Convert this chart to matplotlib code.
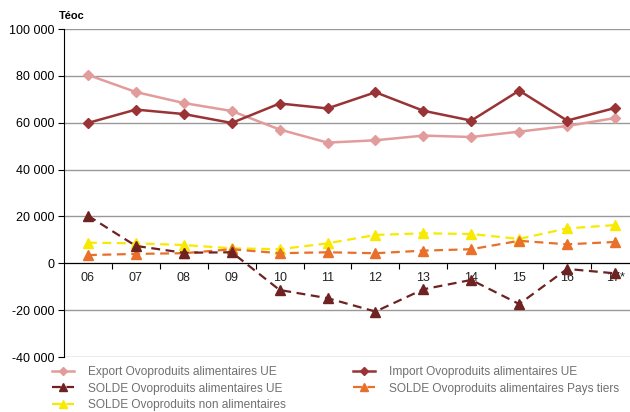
import matplotlib
matplotlib.use("Agg")
import matplotlib.pyplot as plt
from matplotlib.ticker import FuncFormatter, FixedLocator

plt.rcParams["font.family"] = ["Liberation Sans", "DejaVu Sans"]

years = ["06", "07", "08", "09", "10", "11", "12", "13", "14", "15", "16", "17*"]
export_ue = [80400, 73100, 68400, 65000, 57100, 51500, 52500, 54500, 53900, 56200, 58600, 62000]
import_ue = [59900, 65600, 63700, 59900, 68200, 66100, 73000, 65100, 60900, 73700, 60900, 66300]
solde_ue = [20300, 7400, 4500, 4700, -11400, -14900, -20600, -11100, -7100, -17400, -2400, -4300]
solde_tiers = [3500, 4000, 4300, 6000, 4300, 4700, 4300, 5400, 6000, 9600, 8100, 9100]
solde_non_alim = [8800, 8500, 7800, 6400, 6000, 8500, 12100, 12800, 12500, 10400, 14900, 16300]

fig = plt.figure(figsize=(6.3, 4.12), dpi=100)
# plot area runs past the right edge of the image, as in the original
ax = fig.add_axes([64 / 630, 1 - 357 / 412, 575 / 630, 328 / 412])

x = list(range(len(years)))
ax.plot(x, export_ue, color="#e39c9c", lw=1.8, marker="D", ms=5,
        label="Export Ovoproduits alimentaires UE", zorder=3)
ax.plot(x, solde_ue, color="#6e2222", lw=1.6, ls=(0, (4, 2.5)), marker="^", ms=7,
        label="SOLDE Ovoproduits alimentaires UE", zorder=4)
ax.plot(x, solde_non_alim, color="#f7ea00", lw=1.6, ls=(0, (4, 2.5)), marker="^", ms=7,
        label="SOLDE Ovoproduits non alimentaires", zorder=3)
ax.plot(x, import_ue, color="#993335", lw=1.8, marker="D", ms=5,
        label="Import Ovoproduits alimentaires UE", zorder=3)
ax.plot(x, solde_tiers, color="#e8702a", lw=1.6, ls=(0, (4, 2.5)), marker="^", ms=7,
        label="SOLDE Ovoproduits alimentaires Pays tiers", zorder=3)

ax.set_xlim(-0.5, len(years) - 0.5)
ax.set_ylim(-40000, 100000)
ax.set_yticks(range(-40000, 100001, 20000))
ax.yaxis.set_major_formatter(FuncFormatter(lambda v, p: f"{int(v):,}".replace(",", " ")))
ax.grid(axis="y", color="#999999", lw=1)
ax.set_axisbelow(True)

for s in ("top", "right"):
    ax.spines[s].set_visible(False)
ax.spines["left"].set_color("black")
ax.spines["bottom"].set_position(("data", 0))
ax.spines["bottom"].set_color("black")
ax.spines["bottom"].set_zorder(2)

ax.xaxis.set_major_locator(FixedLocator([i + 0.5 for i in x[:-1]]))
ax.xaxis.set_major_formatter(FuncFormatter(lambda v, p: ""))
ax.tick_params(axis="x", direction="out", length=4, color="black")
ax.tick_params(axis="y", direction="out", length=4, color="black", labelsize=9, pad=3)
for i, yr in enumerate(years):
    ax.text(i, -6300, yr, ha="center", va="center", fontsize=9, color="#222222")

fig.text(59 / 630, 1 - 16 / 412, "Téoc", fontsize=8, fontweight="bold", va="center")

ax.legend(loc="upper left", bbox_to_anchor=(-0.03, -0.014), ncol=2, frameon=False,
          fontsize=8.6, labelcolor="#707070", handlelength=1.85, columnspacing=5.6,
          labelspacing=0.36, borderaxespad=0, handletextpad=1.2, markerscale=0.75)

fig.savefig("out.png", dpi=100)
